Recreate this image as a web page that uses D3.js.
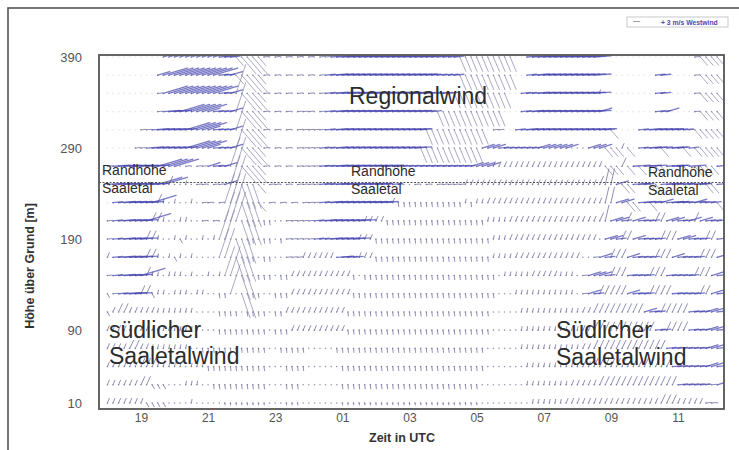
<!DOCTYPE html>
<html><head><meta charset="utf-8">
<script src="https://cdn.jsdelivr.net/npm/d3@7"></script>
<style>
body{margin:0;background:#fff;}
svg{display:block;font-family:"Liberation Sans",Arial,sans-serif;}
</style></head><body>
<svg id="c" width="739" height="450"></svg>
<script>
// ---------- DATA ----------
// start hour of each group of 10-minute slots (hours after midnight of day 1; 24 = 00 UTC next day)
const hourStarts = [18,19,20,21,22,23,24,25,26,27,28,29,30,31,32,33,34,35,36];
// measurement levels (m above ground), top row first
const levels = [390,370,350,330,310,290,270,250,230,210,190,170,150,130,110,90,70,50,30,10];
// wind vector codes per level; one char per 10-min slot, groups = hours (see hourStarts); '_' = no data
const rows = [
"______ ____lL LLLLLL LLmmmn NNNnw. w.w.w. w.wwmW WWWWWW WWWWWW WWWmmm mmmddd dddddd d__mWW WWWWWW WWWW__ ______ ______ ___wnn nn",
"______ ___lLL LLLLLL LLmmln NNNnw. w.w.w. w.wmWW WWWWWW WWWWWW WWWmmm mmmddd dddddd d__mWW WWWWWW WWWW__ ______ __mm__ ___wnn nn",
"______ ___wLL LLLLLL LLmmlA NNNnw. w.w.w. w.wmWW WWWWWW WWWWWW WWmmmm mmdddd dddddd __mmWW WWWWWW WWWWi_ ______ __mm__ ___wnn nn",
"______ ___wWW WLLLLL lmmmlA NNNnw. w.w.ww w.wmWW WWWWWW WWWWWW WWmmmd dddddd ddddd_ __mWWW WWWWWW WWWWl_ ______ __mml_ ___wnn nn",
"______ wwWWWW WWLLLL lmmmlA NNNnw. w.w.ww wwwmWW WWWWWW WWWWWW WWmddd dddddd dd_ww_ _mWWWW WWWWWW WWWWWm n____m WWWWWm mmwnnn nn",
"_____w wWWWWW WWLLLL lmmmlA NNNnw. w.w.ww wwmmWW WWWWWW WWWWWW WWdddd dddddd dlllmm mmmmml lllll. ..llln nnyn_m WWWnWW mnmnnn nn",
"wWWWWW WWWLLL L.w.ww lmmlAA NNNnw. w.w.ww wwmmWW WWWWWW WWWmmm mmmmmm mmmmml lllyyy yyyyyy yyyyyy yyyyyn nnYnWn WWnnWW mnWnnn nm",
"WWWWWW WWWLLY ..i.ww .wwlAA MMMn.w w.w.ww wwmmWW WWWWWW Wmwmw. .w.w.w wwwwyy yyyyyy yyyyyy yyyyyy yyyyYS SlnnWm mnnWWm WmWWmn nm",
"_mWWWW WWLYi. i..i.w w.wAAA MMMn.w .w.w.w wwmWWW WWWWWW WWwyjj jjjjjj jjjjij iiyyyy yyyyyy yyyyyy yyyyyS SllnnW WnmlWW mmWlmm mn",
"wmWWWW WLYYi. .ii..w .w.AAA MMM.jj ..wwww wmWWWW WWWWyy yyjjjj jjjjjj jjjjjj jjiiii yyyyyy yyyyyy yyyyYS llmYlm mmYYll mmlYlm mm",
"wmWWWW WYYi.. iki..i .iAA.M MMj.jj .jwwww wmmWWW WWWyyy jjjjjj jjjjjj jjjjjj jjjiii yyyyyy yyyyyy yyyy.l lmYYlm mmmYYY llmmmY Ym",
"ymWWWW WYYi.i ki.i.. ..AA.M MMj.jj ..wwwy yyyyyW mmmyyy jjjjjj jjjjjj jjjjjj jjjiii iyyyyy yyyyyy y..wlm YYYlmm mmYYYl mmmmYY Yl",
"wmWWWW LYii.i ii.i.. i.iAA. MM.jjj .jjyyy yyyyyy yyj.jj jjjjjj jjjjjj jjjjjj jjjj.i iiiiyy yyyiii .wlllm YYYmmm mYYYmm mmmYYY lm",
"kwmWWW YYkii. iii.ii ..jjA. MMjj.. jjjyyy yyyyyy yyjjjj jjjjjj jjjjjj jjjjjj jjjj.. .iiiii iiiiii .wlmYY YYYlmm mYYYYm mmmmYY lm",
"kyYYyy yyyiii iiii.. ..jjjj .jjjj. jjyyyy yyyyyy yjjjjj jjjjjj jjjjjj jjjjjj jjj... ..iiii iiiiii iyyYYY YYYYYY lmmYYY YYmmml lm",
"yyyyyy yyyiii iiiii. ..jjjj jjjjj. jjjyyy yyyyyy yjjjjj jjjjjj jjjjjj jjjjjj jjj... ..iiii iiiiii iyyYYY YYYYYY YYmmYY YYmmml lm",
"yyyyYY yyiiii iii..j jjjjjj jjjjj. .jjjjj .....j jjjjjj jjjjjj jjjjjj jjjjjj jj.... ..iiii iiiiii iyyYYY YYYYYY YYYYmm mmmmml lm",
"yyyyyy YYYiii ii.iii jjjjjj jjjjj. ..jjjj ...... jjjjjj jjjjjj jjjjjj jjjjjj jj.... ...iii iiiiii iyyYYY YYYYYY YYYYYm mmmmml lm",
"yyyyyy YYkkk. ..iii. .jjjjj jjjjj. ..jjj. ...... jjjjjj jjjjjj jjjjjj jjjjjj j..... ...iii iiiiiy yyyyYY YYYYYY YYYYYY mmmmmw wl",
"yyyyyy ykkkk. ...i.. ...,,, ,,,,,. ..,,,. ...... ,,,,,, ,,,,,, ,,,,,, ,,,,,, ,..... ....ii iiiiyy yyyyyy yyyyyy yyyYYY yyyyyw w."
];
// code -> [u (west->east), v (south->north)] in m/s
const codes = {
  '.':[0.3,0.2], ',':[0.1,-0.8], 'i':[0.3,1.5], 'j':[0.2,-1.7], 'k':[0.9,-1.6],
  'y':[0.8,1.9], 'Y':[1.6,3.4], 'S':[1.5,6.5], 'w':[2.0,0.2], 'm':[4.0,0.4],
  'W':[7.0,0.5], 'l':[5.0,1.5], 'L':[10.0,3.0], 'A':[4.0,12.0], 'n':[3.0,-3.5],
  'N':[6.0,-7.0], 'M':[3.5,-10.0], 'd':[2.5,-6.0]
};
const xTickValues = [19,21,23,25,27,29,31,33,35];
const xTickLabels = ["19","21","23","01","03","05","07","09","11"];
const yTickValues = [10,90,190,290,390];
const legendSpeed = 3;

// ---------- DRAW ----------
const svg = d3.select("#c");
const L = 99, R = 724, T = 55, B = 409;
const x = d3.scaleLinear().domain([17.75, 36.37]).range([L, R]);
const y = d3.scaleLinear().domain([10, 390]).range([403, 57]);
const sp = d3.scaleLinear().domain([0, 1]).range([0, 2.4]); // px per m/s

// outer frame
svg.append("rect").attr("x",8).attr("y",8).attr("width",760).attr("height",470)
  .attr("fill","none").attr("stroke","#555").attr("stroke-width",1.6);

svg.append("defs").append("clipPath").attr("id","pc")
  .append("rect").attr("x",L).attr("y",T).attr("width",R-L).attr("height",B-T);

// build vector records
const vecs = [];
levels.forEach((h, ri) => {
  rows[ri].split(" ").forEach((grp, gi) => {
    [...grp].forEach((ch, si) => {
      vecs.push({t: hourStarts[gi] + si/6, h, c: ch});
    });
  });
});
const strong = "WLml", diag = "ANMnd";
const g = svg.append("g").attr("clip-path","url(#pc)");

// base points
g.selectAll("circle.p").data(vecs).join("circle")
  .attr("cx", d => x(d.t)).attr("cy", d => y(d.h)).attr("r", 0.8)
  .attr("fill", d => d.c === "_" ? "#dcdce4" : "#6a6a98")
  .attr("opacity", d => d.c === "_" ? 0.8 : 0.7);

const drawVec = (filter, color, op, w) => {
  g.append("g").selectAll("line").data(vecs.filter(d => d.c !== "_" && d.c !== "." && filter(d.c))).join("line")
    .attr("x1", d => x(d.t)).attr("y1", d => y(d.h))
    .attr("x2", d => x(d.t) + sp(codes[d.c][0]))
    .attr("y2", d => y(d.h) - sp(codes[d.c][1]))
    .attr("stroke", color).attr("stroke-opacity", op).attr("stroke-width", w)
    .attr("stroke-linecap","round");
};
drawVec(c => !strong.includes(c) && !diag.includes(c), "#6a6a9c", 0.75, 1);
drawVec(c => diag.includes(c), "#8686aa", 0.7, 1);
drawVec(c => strong.includes(c), "#4646b0", 0.72, 1.3);

// plot frame
svg.append("rect").attr("x",L).attr("y",T).attr("width",R-L).attr("height",B-T)
  .attr("fill","none").attr("stroke","#555").attr("stroke-width",1.8);

// Randhöhe line
svg.append("line").attr("x1",L).attr("x2",R).attr("y1",182.5).attr("y2",182.5)
  .attr("stroke","#555").attr("stroke-width",1).attr("stroke-dasharray","2,1.5");

// axes
const xa = svg.append("g").attr("transform",`translate(0,${B})`)
  .call(d3.axisBottom(x).tickValues(xTickValues).tickFormat((d,i)=>xTickLabels[i]).tickSize(0).tickPadding(4.5));
const ya = svg.append("g").attr("transform",`translate(${L},0)`)
  .call(d3.axisLeft(y).tickValues(yTickValues).tickSize(0).tickPadding(17));
[xa, ya].forEach(a => {
  a.select(".domain").remove();
  a.selectAll("text").attr("fill","#555")
    .attr("font-family","'Liberation Sans',Arial,sans-serif");
});
xa.selectAll("text").attr("font-size",12);
ya.selectAll("text").attr("font-size",13);

svg.append("text").attr("x",402).attr("y",442).attr("text-anchor","middle")
  .attr("font-size",12.5).attr("font-weight","bold").attr("fill","#333").text("Zeit in UTC");
svg.append("text").attr("transform","translate(34,266) rotate(-90)").attr("text-anchor","middle")
  .attr("font-size",12.5).attr("font-weight","bold").attr("fill","#333").text("Höhe über Grund [m]");

// annotations
const ann = (tx, ty, s, fs) => svg.append("text").attr("x",tx).attr("y",ty)
  .attr("font-size",fs).attr("fill","#2c2c2c").text(s);
ann(349,104,"Regionalwind",23);
ann(109,338,"südlicher",23);
ann(109,364,"Saaletalwind",23);
ann(556,338,"Südlicher",23);
ann(556,365,"Saaletalwind",23);
[[102,175],[351,176],[648,177]].forEach(([px,py]) => {
  ann(px,py,"Randhöhe",14);
  ann(px,py+18,"Saaletal",14);
});

// legend
svg.append("rect").attr("x",627).attr("y",17).attr("width",101).attr("height",10)
  .attr("fill","#fff").attr("stroke","#bbb").attr("stroke-width",0.8);
svg.append("line").attr("x1",633).attr("x2",633+sp(legendSpeed)).attr("y1",21.5).attr("y2",21.5)
  .attr("stroke","#888").attr("stroke-width",0.8);
svg.append("text").attr("x",661).attr("y",24.5).attr("font-size",6.8).attr("font-weight","bold")
  .attr("fill","#4a4ab0").text("+ 3 m/s Westwind");
</script>
</body></html>
